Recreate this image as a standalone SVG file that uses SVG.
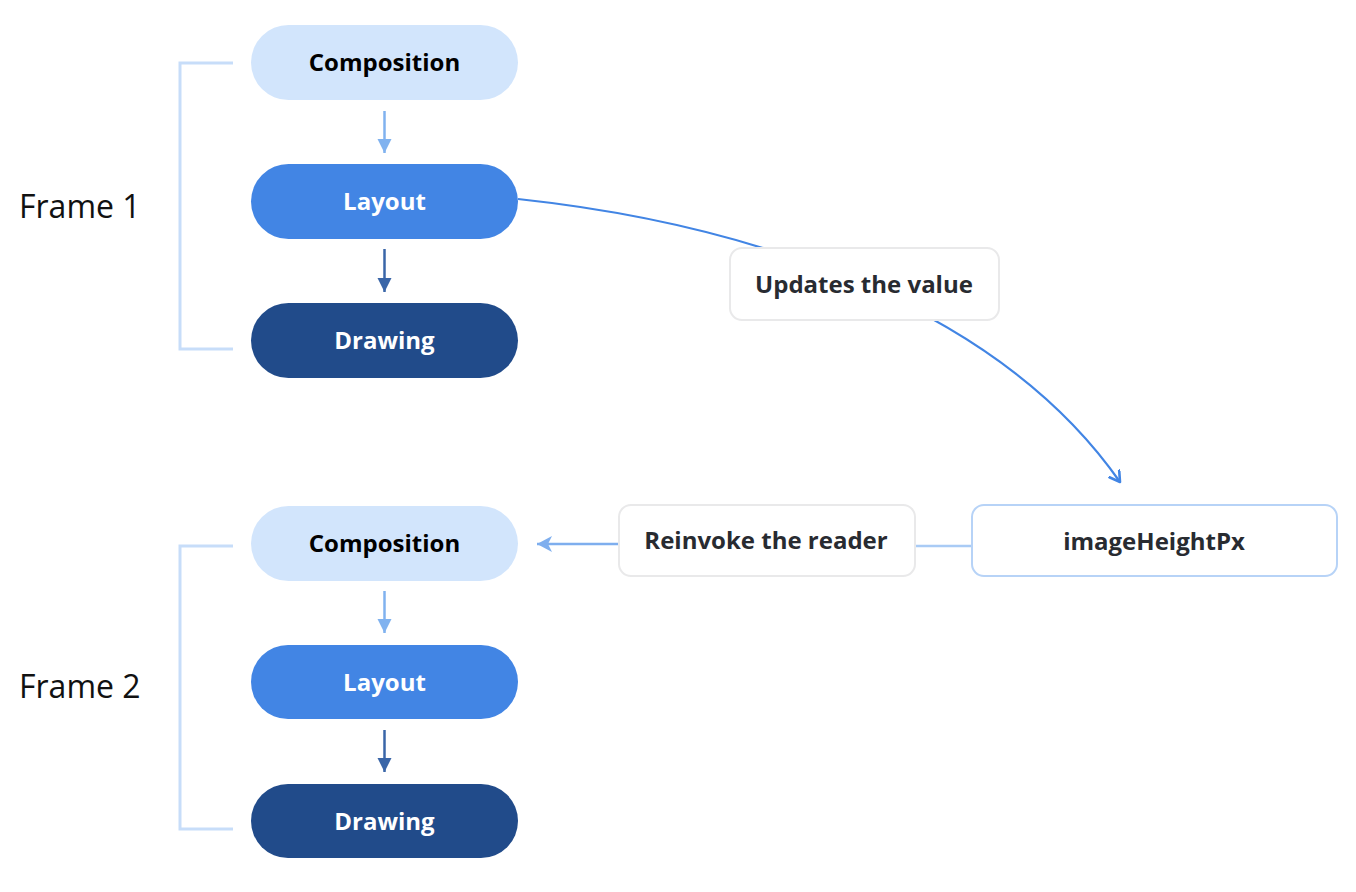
<svg xmlns="http://www.w3.org/2000/svg" width="1356" height="892" viewBox="0 0 1356 892">
<defs>
<style>
.t{font-family:"Open Sans","Noto Sans","Liberation Sans",sans-serif;font-weight:700;font-size:24px;text-anchor:middle}
.frame{font-family:"Open Sans","Noto Sans","Liberation Sans",sans-serif;font-size:32px;fill:#111}
.comp{fill:#d2e5fc}
.lay{fill:#4285e4}
.draw{fill:#214b8a}
.bracket{fill:none;stroke:#c7ddf9;stroke-width:3}
.lbl{fill:#fff;stroke:#e9e9ea;stroke-width:2}
</style>
<marker id="hLight" markerUnits="userSpaceOnUse" markerWidth="16" markerHeight="16" refX="14" refY="7" orient="auto"><path d="M0,0 L14,7 L0,14 Z" fill="#80b2ef"/></marker>
<marker id="hDark" markerUnits="userSpaceOnUse" markerWidth="16" markerHeight="16" refX="14" refY="7" orient="auto"><path d="M0,0 L14,7 L0,14 Z" fill="#3a66a8"/></marker>
<marker id="hLeft" markerUnits="userSpaceOnUse" markerWidth="18" markerHeight="18" refX="15" refY="8" orient="auto"><path d="M0,0 L15,8 L0,16 L4,8 Z" fill="#7eaeee"/></marker>
<marker id="hOpen" markerUnits="userSpaceOnUse" markerWidth="20" markerHeight="20" refX="11" refY="7" orient="auto"><path d="M1,1 L11,7 L1,13" fill="none" stroke="#4285e4" stroke-width="2.6" stroke-linecap="round" stroke-linejoin="round"/></marker>
</defs>

<g id="connectors">
<path id="bracket1" class="bracket" d="M233,63 H180 V349 H233"/>
<path id="bracket2" class="bracket" d="M233,546 H180 V829 H233"/>
<line x1="384.5" y1="111" x2="384.5" y2="153" stroke="#80b2ef" stroke-width="2.5" marker-end="url(#hLight)"/>
<line x1="384.5" y1="249" x2="384.5" y2="292" stroke="#3a66a8" stroke-width="2.5" marker-end="url(#hDark)"/>
<line x1="384.5" y1="591" x2="384.5" y2="633" stroke="#80b2ef" stroke-width="2.5" marker-end="url(#hLight)"/>
<line x1="384.5" y1="730" x2="384.5" y2="772" stroke="#3a66a8" stroke-width="2.5" marker-end="url(#hDark)"/>
<path d="M518,199 C760,225 1000,310 1120,482" fill="none" stroke="#4285e4" stroke-width="2.2" marker-end="url(#hOpen)"/>
<line x1="971" y1="546" x2="915" y2="546" stroke="#a9cbf5" stroke-width="2.5"/>
<line x1="618" y1="544" x2="537" y2="544" stroke="#7eaeee" stroke-width="2.5" marker-end="url(#hLeft)"/>
</g>

<g id="frame1-label"><text class="frame" x="19" y="218">Frame 1</text></g>
<g id="frame2-label"><text class="frame" x="19" y="698">Frame 2</text></g>

<g id="composition1"><rect class="comp" x="251" y="25" width="267" height="75" rx="37.5"/><text class="t" x="384.5" y="71" fill="#000">Composition</text></g>
<g id="layout1"><rect class="lay" x="251" y="164" width="267" height="75" rx="37.5"/><text class="t" x="384.5" y="210" fill="#fff">Layout</text></g>
<g id="drawing1"><rect class="draw" x="251" y="303" width="267" height="75" rx="37.5"/><text class="t" x="384.5" y="349" fill="#fff">Drawing</text></g>

<g id="composition2"><rect class="comp" x="251" y="506" width="267" height="75" rx="37.5"/><text class="t" x="384.5" y="552" fill="#000">Composition</text></g>
<g id="layout2"><rect class="lay" x="251" y="645" width="267" height="74" rx="37"/><text class="t" x="384.5" y="691" fill="#fff">Layout</text></g>
<g id="drawing2"><rect class="draw" x="251" y="784" width="267" height="74" rx="37"/><text class="t" x="384.5" y="830" fill="#fff">Drawing</text></g>

<g id="updates-label"><rect class="lbl" x="730" y="248" width="269" height="72" rx="12"/><text class="t" x="864" y="293" fill="#282b31">Updates the value</text></g>
<g id="reinvoke-label"><rect class="lbl" x="619" y="505" width="296" height="71" rx="12"/><text class="t" x="766" y="549" fill="#282b31">Reinvoke the reader</text></g>
<g id="imageHeightPx"><rect x="972" y="505" width="365" height="71" rx="12" fill="#fff" stroke="#b7d3f7" stroke-width="2"/><text class="t" x="1154" y="550" fill="#282b31">imageHeightPx</text></g>
</svg>
